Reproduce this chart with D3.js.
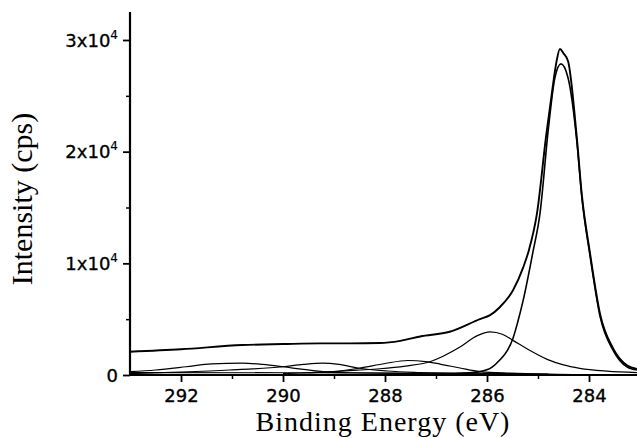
<!DOCTYPE html>
<html>
<head>
<meta charset="utf-8">
<script src="https://cdn.jsdelivr.net/npm/d3@7"></script>
<style>
  html, body { margin: 0; padding: 0; background: #fff; }
  svg { display: block; }
</style>
</head>
<body>
<svg id="chart" width="637" height="438"></svg>
<script>
// ---- data ----
const xTickValues = [292, 290, 288, 286, 284];
const xMinorTicks = [291, 289, 287, 285];
const yTickValues = [0, 10000, 20000, 30000];
const yTickMantissa = ["0", "1x10", "2x10", "3x10"];
const yTickExponent = ["", "4", "4", "4"];
const yMinorTicks = [5000, 15000, 25000];

// measured envelope (raw spectrum)
const envE = [293.0, 292.0, 290.8, 290.0, 289.27, 288.69, 288.1, 287.7, 287.31, 286.73, 286.14, 285.94, 285.75, 285.49, 285.29, 285.18, 285.02, 284.84, 284.73, 284.64, 284.57, 284.5, 284.41, 284.24, 284.14, 283.98, 283.78, 283.53, 283.25, 283.06];
const envI = [2080, 2300, 2680, 2770, 2830, 2830, 2860, 3060, 3450, 3870, 5000, 5360, 6070, 7590, 9640, 11160, 14470, 21430, 25180, 28000, 29200, 28800, 28100, 21300, 16100, 10900, 5400, 2400, 850, 550];

// main component (~284.6 eV)
const c1E = [286.6, 286.14, 285.9, 285.75, 285.6, 285.49, 285.4, 285.29, 285.10, 284.96, 284.80, 284.67, 284.55, 284.41, 284.24, 284.14, 283.98, 283.78, 283.53, 283.25, 283.06];
const c1I = [120, 300, 700, 1340, 2200, 3300, 4700, 6700, 11000, 14500, 21900, 26600, 27860, 26600, 21000, 15900, 10700, 5180, 2230, 710, 450];

// component ~286.0 eV
const c2E = [289.5, 289.0, 288.55, 288.1, 287.6, 287.12, 286.53, 286.2, 285.94, 285.7, 285.49, 285.2, 284.82, 284.5, 284.18, 283.65, 283.06];
const c2I = [200, 300, 430, 560, 800, 1190, 2500, 3500, 3870, 3650, 3100, 2300, 1400, 900, 600, 350, 220];

// component ~287.5 eV
const c3E = [290.0, 289.67, 289.02, 288.49, 288.0, 287.55, 287.2, 286.92, 286.53, 286.14, 285.55, 284.8];
const c3I = [120, 180, 300, 625, 1030, 1300, 1200, 980, 625, 300, 160, 80];

// component ~289.2 eV
const c4E = [293.0, 292.0, 291.04, 290.0, 289.6, 289.22, 288.9, 288.53, 287.96, 287.31, 286.5];
const c4I = [130, 270, 450, 740, 950, 1070, 950, 625, 360, 220, 120];

// component ~290.8 eV
const c5E = [293.0, 292.5, 291.9, 291.4, 290.8, 290.4, 290.0, 289.6, 289.1, 288.69, 287.7, 286.5];
const c5I = [295, 450, 740, 1000, 1070, 950, 740, 500, 250, 200, 130, 80];

// background
const bgE = [293.0, 290.0, 288.0, 286.5, 285.5, 284.8, 284.3, 283.8, 283.06];
const bgI = [220, 200, 180, 160, 120, 70, 30, 10, 0];

// ---- drawing ----
const svg = d3.select("#chart");
const x = d3.scaleLinear().domain([293, 283]).range([130, 640]);
const y = d3.scaleLinear().domain([0, 30000]).range([375, 40]);
const yTop = 32500;

const line = d3.line()
  .x(d => x(d[0]))
  .y(d => y(d[1]))
  .curve(d3.curveMonotoneX);

function draw(E, I, width) {
  svg.append("path")
    .datum(E.map((e, i) => [e, I[i]]))
    .attr("d", line)
    .attr("fill", "none")
    .attr("stroke", "#000")
    .attr("stroke-width", width)
    .attr("stroke-linejoin", "round");
}

draw(bgE, bgI, 1.2);
draw(c5E, c5I, 1.2);
draw(c4E, c4I, 1.2);
draw(c3E, c3I, 1.2);
draw(c2E, c2I, 1.2);
draw(c1E, c1I, 1.6);
draw(envE, envI, 1.9);

// x axis
const xAxis = d3.axisBottom(x).tickValues(xTickValues).tickSize(7).tickPadding(7).tickFormat(d3.format("d"));
const gx = svg.append("g").attr("transform", `translate(0,${y(0)})`).call(xAxis);
gx.select(".domain").remove();
gx.selectAll(".tick line").attr("stroke-width", 1.8);
gx.selectAll(".tick text")
  .attr("font-family", "'DejaVu Sans', sans-serif")
  .attr("font-size", 18)
  .attr("fill", "#000")
  .attr("stroke", "#000")
  .attr("stroke-width", 0.35);
const gxm = d3.axisBottom(x).tickValues(xMinorTicks).tickSize(4).tickFormat("");
svg.append("g").attr("transform", `translate(0,${y(0)})`).call(gxm)
  .call(g => g.select(".domain").remove())
  .selectAll(".tick line").attr("stroke-width", 1.5);

svg.append("line")
  .attr("x1", x(293) - 1).attr("x2", 637)
  .attr("y1", y(0)).attr("y2", y(0))
  .attr("stroke", "#000").attr("stroke-width", 2.2);

// y axis
const yAxis = d3.axisLeft(y).tickValues(yTickValues).tickSize(7).tickPadding(5).tickFormat("");
const gy = svg.append("g").attr("transform", `translate(${x(293)},0)`).call(yAxis);
gy.select(".domain").remove();
gy.selectAll(".tick line").attr("stroke-width", 1.8);
const gym = d3.axisLeft(y).tickValues(yMinorTicks).tickSize(4).tickFormat("");
svg.append("g").attr("transform", `translate(${x(293)},0)`).call(gym)
  .call(g => g.select(".domain").remove())
  .selectAll(".tick line").attr("stroke-width", 1.5);

svg.append("line")
  .attr("x1", x(293)).attr("x2", x(293))
  .attr("y1", y(yTop)).attr("y2", y(0) + 1)
  .attr("stroke", "#000").attr("stroke-width", 2.2);

yTickValues.forEach((v, i) => {
  const t = svg.append("text")
    .attr("x", x(293) - 12)
    .attr("y", y(v) + 6.5)
    .attr("text-anchor", "end")
    .attr("font-family", "'DejaVu Sans', sans-serif")
    .attr("font-size", 18)
    .attr("fill", "#000")
    .attr("stroke", "#000")
    .attr("stroke-width", 0.35);
  t.append("tspan").text(yTickMantissa[i]);
  if (yTickExponent[i]) {
    t.append("tspan").attr("font-size", 12).attr("dy", -8).attr("stroke-width", 0.2).text(yTickExponent[i]);
  }
});

// axis titles
svg.append("text")
  .attr("x", 383).attr("y", 431)
  .attr("text-anchor", "middle")
  .attr("font-family", "'Liberation Serif', 'Times New Roman', serif")
  .attr("font-size", 28)
  .attr("letter-spacing", 1)
  .attr("fill", "#000")
  .text("Binding Energy (eV)");

svg.append("text")
  .attr("transform", "translate(32,199) rotate(-90)")
  .attr("text-anchor", "middle")
  .attr("font-family", "'Liberation Serif', 'Times New Roman', serif")
  .attr("font-size", 30)
  .attr("fill", "#000")
  .text("Intensity (cps)");
</script>
</body>
</html>
